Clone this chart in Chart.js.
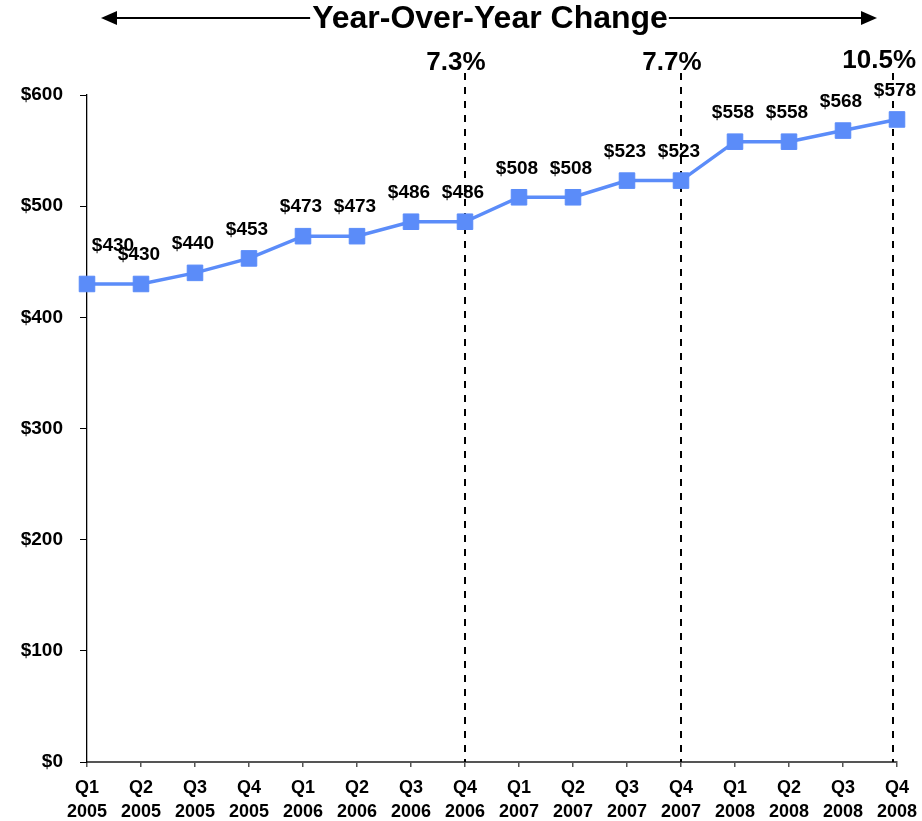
<!DOCTYPE html>
<html>
<head>
<meta charset="utf-8">
<title>Year-Over-Year Change</title>
<script src="https://cdn.jsdelivr.net/npm/chart.js@4/dist/chart.umd.min.js"></script>
<style>
  html, body { margin: 0; padding: 0; background: #fff; }
  #wrap { position: relative; width: 922px; height: 821px; }
</style>
</head>
<body>
<div id="wrap"><canvas id="chart" width="922" height="821"></canvas></div>
<script>
// Quarterly values
const quarters = ['Q1', 'Q2', 'Q3', 'Q4', 'Q1', 'Q2', 'Q3', 'Q4', 'Q1', 'Q2', 'Q3', 'Q4', 'Q1', 'Q2', 'Q3', 'Q4'];
const years = ['2005', '2005', '2005', '2005', '2006', '2006', '2006', '2006', '2007', '2007', '2007', '2007', '2008', '2008', '2008', '2008'];
const values = [430, 430, 440, 453, 473, 473, 486, 486, 508, 508, 523, 523, 558, 558, 568, 578];

// Year-end markers and their year-over-year change
const markerIndex = [7, 11, 15];
const markerText = ['7.3%', '7.7%', '10.5%'];

const titleText = 'Year-Over-Year Change';

const FONT = "'Liberation Sans', Arial, Helvetica, sans-serif";
const BLUE = '#5b8cf9';

const labels = quarters.map((q, i) => [q, years[i]]);

// Value labels above each point
const valueLabels = {
  id: 'valueLabels',
  afterDatasetsDraw(chart) {
    const ctx = chart.ctx;
    const meta = chart.getDatasetMeta(0);
    ctx.save();
    ctx.font = 'bold 19px ' + FONT;
    ctx.fillStyle = '#000';
    ctx.textAlign = 'center';
    ctx.textBaseline = 'middle';
    meta.data.forEach((pt, i) => {
      let dx = -2, dy = -29;
      if (i === 0) { dx = 26; dy = -38; }
      ctx.fillText('$' + values[i], pt.x + dx, pt.y + dy);
    });
    ctx.restore();
  }
};

// Dashed year-end lines, percentage notes and the title arrow
const annotations = {
  id: 'annotations',
  beforeDatasetsDraw(chart) {
    const ctx = chart.ctx;
    const x = chart.scales.x;
    const area = chart.chartArea;
    ctx.save();
    ctx.strokeStyle = '#000';
    ctx.lineWidth = 2;
    ctx.setLineDash([7, 7]);
    markerIndex.forEach((idx) => {
      const px = Math.round(x.getPixelForValue(idx)) - (idx === values.length - 1 ? 4 : 0);
      ctx.beginPath();
      ctx.moveTo(px, 73);
      ctx.lineTo(px, area.bottom);
      ctx.stroke();
    });
    ctx.restore();
  },
  afterDraw(chart) {
    const ctx = chart.ctx;
    const x = chart.scales.x;
    ctx.save();
    // percentage notes
    ctx.font = 'bold 26px ' + FONT;
    ctx.fillStyle = '#000';
    ctx.textAlign = 'center';
    ctx.textBaseline = 'alphabetic';
    markerIndex.forEach((idx, k) => {
      let cx = x.getPixelForValue(idx) - 9;
      const w = ctx.measureText(markerText[k]).width;
      if (cx + w / 2 > chart.width - 6) cx = chart.width - 6 - w / 2;
      ctx.fillText(markerText[k], cx, k === markerIndex.length - 1 ? 68 : 70);
    });

    // title with double-headed arrow
    ctx.font = 'bold 32px ' + FONT;
    const tw = ctx.measureText(titleText).width;
    const tcx = 490, ty = 18;
    ctx.textBaseline = 'middle';
    ctx.fillText(titleText, tcx, ty + 1);
    const leftTip = x.getPixelForValue(0) + 14;
    const rightTip = x.getPixelForValue(values.length - 1) - 20;
    ctx.strokeStyle = '#000';
    ctx.lineWidth = 2;
    ctx.beginPath();
    ctx.moveTo(leftTip + 10, ty);
    ctx.lineTo(tcx - tw / 2 - 2, ty);
    ctx.moveTo(tcx + tw / 2 + 1, ty);
    ctx.lineTo(rightTip - 10, ty);
    ctx.stroke();
    ctx.fillStyle = '#000';
    ctx.beginPath();
    ctx.moveTo(leftTip, ty);
    ctx.lineTo(leftTip + 16, ty - 7);
    ctx.lineTo(leftTip + 16, ty + 7);
    ctx.closePath();
    ctx.fill();
    ctx.beginPath();
    ctx.moveTo(rightTip, ty);
    ctx.lineTo(rightTip - 16, ty - 7);
    ctx.lineTo(rightTip - 16, ty + 7);
    ctx.closePath();
    ctx.fill();
    ctx.restore();
  }
};

new Chart(document.getElementById('chart'), {
  type: 'line',
  data: {
    labels: labels,
    datasets: [{
      data: values,
      borderColor: BLUE,
      backgroundColor: BLUE,
      borderWidth: 3.5,
      pointStyle: 'rect',
      pointRadius: 11,
      pointBorderWidth: 1,
      pointBorderColor: BLUE,
      pointBackgroundColor: BLUE,
      tension: 0,
      fill: false
    }]
  },
  options: {
    responsive: false,
    animation: false,
    devicePixelRatio: 1,
    layout: { padding: { top: 95, right: 25, left: 0, bottom: 0 } },
    plugins: {
      legend: { display: false },
      tooltip: { enabled: false },
      title: { display: false }
    },
    scales: {
      x: {
        type: 'category',
        offset: false,
        grid: {
          display: true,
          drawOnChartArea: false,
          drawTicks: true,
          tickLength: 5,
          color: '#555',
          lineWidth: 1.5
        },
        border: { display: true, color: '#555', width: 2 },
        ticks: {
          color: '#000',
          font: { family: FONT, size: 18, weight: 'bold', lineHeight: 1.333 },
          padding: 9,
          maxRotation: 0,
          minRotation: 0,
          autoSkip: false
        },
        afterFit(scale) {
          scale.height = 59;
          scale.paddingLeft = 0;
          scale.paddingRight = 0;
        }
      },
      y: {
        min: 0,
        max: 600,
        grid: {
          display: true,
          drawOnChartArea: false,
          drawTicks: true,
          tickLength: 7,
          color: '#000',
          lineWidth: 1
        },
        border: { display: true, color: '#000', width: 1.3 },
        ticks: {
          stepSize: 100,
          color: '#000',
          padding: 17,
          font: { family: FONT, size: 19, weight: 'bold' },
          callback: (v) => '$' + v
        },
        afterFit(scale) {
          scale.width = 87;
        }
      }
    }
  },
  plugins: [annotations, valueLabels]
});
</script>
</body>
</html>
